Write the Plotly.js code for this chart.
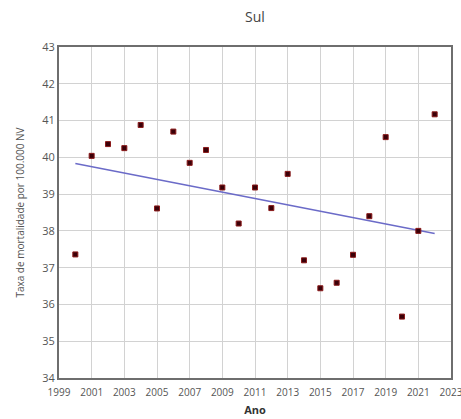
<!DOCTYPE html>
<html><head><meta charset="utf-8">
<script src="https://cdn.plot.ly/plotly-3.0.1.min.js"></script>
<style>html,body{margin:0;padding:0;background:#fff;}#c{width:461px;height:419px;}</style>
</head><body><div id="c"></div>
<script>
const years = [2000,2001,2002,2003,2004,2005,2006,2007,2008,2009,2010,2011,2012,2013,2014,2015,2016,2017,2018,2019,2020,2021,2022];
const rates = [37.36,40.04,40.36,40.25,40.88,38.61,40.70,39.85,40.20,39.18,38.20,39.18,38.62,39.55,37.20,36.44,36.59,37.35,38.40,40.55,35.67,38.00,41.17];
const trendYears = [2000, 2022];
const trendValues = [39.83, 37.93];
const xTicks = [1999,2001,2003,2005,2007,2009,2011,2013,2015,2017,2019,2021,2023];
const yTicks = [34,35,36,37,38,39,40,41,42,43];

const fontFam = '"Open Sans", "Noto Sans", sans-serif';
Plotly.newPlot('c', [
  {x: trendYears, y: trendValues, mode: 'lines', type: 'scatter',
   line: {color: '#6b6bc8', width: 1.5}, hoverinfo: 'skip'},
  {x: years, y: rates, mode: 'markers', type: 'scatter',
   marker: {symbol: 'square', size: 5, color: '#3a0008', line: {color: '#8b1a1a', width: 1}}}
], {
  width: 461, height: 419,
  margin: {l: 59, r: 10, t: 47, b: 41},
  paper_bgcolor: '#fff', plot_bgcolor: '#fff',
  showlegend: false,
  title: {text: 'Sul', x: 0.553, xanchor: 'center', y: 0.96, yanchor: 'middle',
          font: {family: fontFam, size: 14, color: '#444'}},
  xaxis: {range: [1999, 2023], tickvals: xTicks, ticktext: xTicks.map(String),
          showgrid: true, gridcolor: '#d2d2d2', gridwidth: 1, zeroline: false,
          showline: true, linecolor: '#6e6e6e', linewidth: 2, mirror: true,
          ticks: '', ticklabelstandoff: 4, ticklabeloverflow: 'allow',
          tickfont: {family: fontFam, size: 10, color: '#555'},
          title: {text: '<b>Ano</b>', standoff: 8, font: {family: fontFam, size: 11, color: '#333'}}},
  yaxis: {range: [34, 43], tickvals: yTicks,
          showgrid: true, gridcolor: '#d2d2d2', gridwidth: 1, zeroline: false,
          showline: true, linecolor: '#6e6e6e', linewidth: 2, mirror: true,
          ticks: '', tickfont: {family: fontFam, size: 11, color: '#555'},
          title: {text: 'Taxa de mortalidade por 100.000 NV', standoff: 16,
                  font: {family: fontFam, size: 10, color: '#555'}}}
}, {staticPlot: true, displayModeBar: false});
</script></body></html>
